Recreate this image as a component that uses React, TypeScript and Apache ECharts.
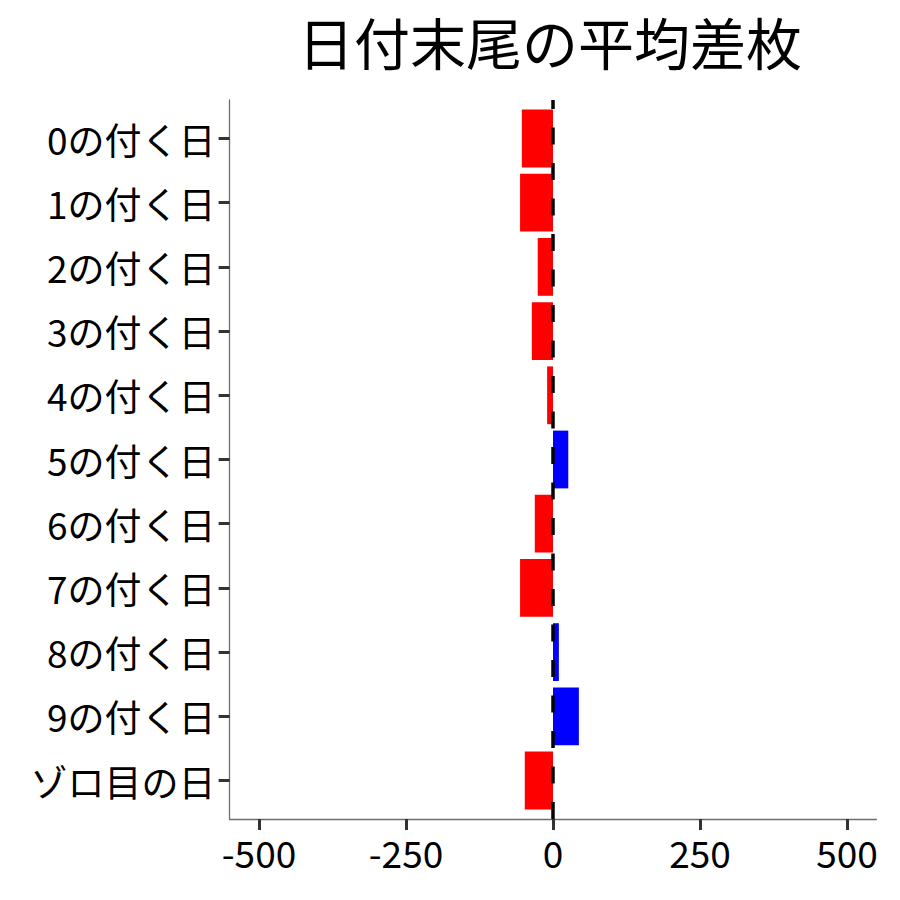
import React, { useEffect, useRef } from "react";
import * as echarts from "echarts";

const title = "日付末尾の平均差枚";

const categories = [
  "0の付く日",
  "1の付く日",
  "2の付く日",
  "3の付く日",
  "4の付く日",
  "5の付く日",
  "6の付く日",
  "7の付く日",
  "8の付く日",
  "9の付く日",
  "ゾロ目の日",
];

// 平均差枚 (読み取り値)
const diffValues = [-53, -56, -26, -36, -10, 26, -31, -56, 10, 44, -48];

const xMin = -500;
const xMax = 500;
const xStep = 250;

const FONT = "Noto Sans CJK JP";

const App: React.FC = () => {
  const chartRef = useRef<HTMLDivElement>(null);

  useEffect(() => {
    if (!chartRef.current) return;
    const chart = echarts.init(chartRef.current, undefined, { renderer: "svg" });

    const axisGray = { color: "#6e6e6e", width: 1.3 };
    const tickStyle = { color: "#333", width: 3 };

    const option = {
      animation: false,
      backgroundColor: "#ffffff",
      title: {
        text: title,
        left: 293,
        top: 7,
        textStyle: { fontFamily: FONT, fontSize: 56, fontWeight: "normal", color: "#000" },
      },
      grid: [
        // パネル枠 (±550 まで)
        { left: 229.6, right: 23.6, top: 100, bottom: 81 },
        // 棒用 (カテゴリの帯)
        { left: 229.6, right: 23.6, top: 106.4, bottom: 87.4 },
        // 目盛り用 (-500〜500)
        { left: 259, right: 53, top: 100, bottom: 81 },
      ],
      xAxis: [
        {
          gridIndex: 0,
          type: "value",
          min: -550,
          max: 550,
          axisLine: { show: true, onZero: false, lineStyle: axisGray },
          axisTick: { show: false },
          axisLabel: { show: false },
          splitLine: { show: false },
        },
        {
          gridIndex: 1,
          type: "value",
          min: -550,
          max: 550,
          show: false,
        },
        {
          gridIndex: 2,
          type: "value",
          min: xMin,
          max: xMax,
          interval: xStep,
          axisLine: { show: false },
          axisTick: { show: true, length: 11, lineStyle: tickStyle },
          axisLabel: {
            fontFamily: FONT,
            fontSize: 37,
            color: "#000",
            margin: 14,
          },
          splitLine: { show: false },
        },
      ],
      yAxis: [
        {
          gridIndex: 0,
          type: "value",
          min: 0,
          max: 1,
          axisLine: { show: true, onZero: false, lineStyle: axisGray },
          axisTick: { show: false },
          axisLabel: { show: false },
          splitLine: { show: false },
        },
        {
          gridIndex: 1,
          type: "category",
          data: categories,
          inverse: true,
          axisLine: { show: false, onZero: false },
          axisTick: {
            show: true,
            alignWithLabel: true,
            length: 11,
            lineStyle: tickStyle,
          },
          axisLabel: {
            fontFamily: FONT,
            fontSize: 37,
            color: "#000",
            margin: 14,
          },
        },
        {
          gridIndex: 2,
          type: "value",
          show: false,
        },
      ],
      series: [
        {
          type: "bar",
          xAxisIndex: 1,
          yAxisIndex: 1,
          barCategoryGap: "10%",
          data: diffValues.map((v) => ({
            value: v,
            itemStyle: { color: v < 0 ? "#ff0000" : "#0000ff" },
          })),
          z: 2,
        },
        {
          // 0 の破線 (下から上へ)
          type: "line",
          xAxisIndex: 0,
          yAxisIndex: 0,
          data: [
            [0, 0],
            [0, 1],
          ],
          symbol: "none",
          silent: true,
          lineStyle: { color: "#000", width: 3.5, type: [17, 18.5] },
          z: 10,
        },
      ],
    };

    chart.setOption(option);
    return () => {
      chart.dispose();
    };
  }, []);

  return (
    <div
      ref={chartRef}
      style={{ position: "fixed", left: 0, top: 0, width: 900, height: 900 }}
    />
  );
};

export default App;
